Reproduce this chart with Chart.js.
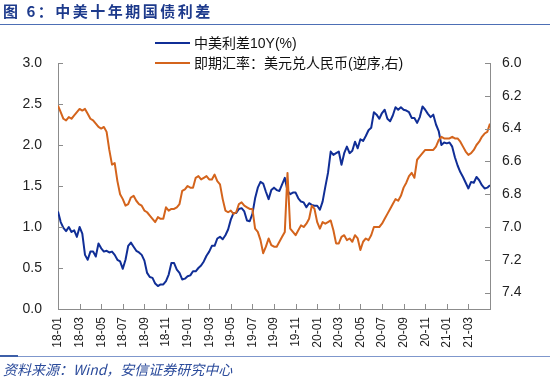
<!DOCTYPE html>
<html>
<head>
<meta charset="utf-8">
<script src="https://cdn.jsdelivr.net/npm/chart.js@4.4.1/dist/chart.umd.min.js"></script>
<style>
html,body{margin:0;padding:0;background:#fff;}
#wrap{position:relative;width:550px;height:379px;overflow:hidden;font-family:"Liberation Sans","Noto Sans CJK SC",sans-serif;}
canvas{position:absolute;left:0;top:0;}
#title{position:absolute;left:3px;top:0px;font-family:"Noto Sans CJK SC",sans-serif;font-size:15px;font-weight:bold;color:#1d3a8c;letter-spacing:2.5px;line-height:22px;white-space:nowrap;z-index:2;}
#tline{position:absolute;left:0;top:24px;width:550px;height:1px;background:#4d6fb5;z-index:2;}
#fline{position:absolute;left:0;top:356px;width:550px;height:1px;background:#7f97cc;z-index:2;}
#fline2{position:absolute;left:0;top:355px;width:18px;height:2px;background:#3d5fa8;z-index:2;}
#footer{position:absolute;left:3px;top:361px;font-family:"Noto Sans CJK SC",sans-serif;font-size:14px;font-style:italic;color:#2b4b9b;line-height:17px;white-space:nowrap;z-index:2;}
.lg{position:absolute;left:155px;font-size:14px;line-height:20px;color:#111;white-space:nowrap;z-index:2;}
.sw{display:inline-block;width:35px;height:2px;vertical-align:middle;margin-right:4px;position:relative;top:-1px;}
</style>
</head>
<body>
<div id="wrap">
<canvas id="c" width="550" height="379"></canvas>
<div id="title">图 6：中美十年期国债利差</div>
<div id="tline"></div>
<div class="lg" style="top:33px"><span class="sw" style="background:#102e96"></span>中美利差10Y(%)</div>
<div class="lg" style="top:53px"><span class="sw" style="background:#d4641c"></span>即期汇率：美元兑人民币(逆序,右)</div>
<div id="fline"></div><div id="fline2"></div>
<div id="footer">资料来源：Wind，安信证券研究中心</div>
</div>
<script>
// x-axis tick labels (every two months, starting Jan 2018)
const tickLabels = ['18-01','18-03','18-05','18-07','18-09','18-11','19-01','19-03','19-05','19-07',
  '19-09','19-11','20-01','20-03','20-05','20-07','20-09','20-11','21-01','21-03'];
// readings are taken every quarter month from 2018-01
const sampleStepMonths = 0.25;
// 中美利差10Y(%) — left axis
const spread = [
  1.19,1.06,0.99,0.95,1.00,0.94,0.96,0.88,1.00,0.92,
  0.66,0.60,0.70,0.70,0.64,0.80,0.74,0.70,0.71,0.69,
  0.70,0.66,0.60,0.58,0.49,0.60,0.77,0.81,0.76,0.71,
  0.69,0.66,0.59,0.44,0.39,0.38,0.31,0.28,0.30,0.30,
  0.34,0.42,0.56,0.56,0.48,0.44,0.36,0.37,0.40,0.41,
  0.46,0.46,0.50,0.53,0.58,0.65,0.70,0.77,0.77,0.86,
  0.88,0.85,0.90,0.97,1.09,1.17,1.17,1.22,1.23,1.19,
  1.08,1.07,1.16,1.35,1.48,1.55,1.53,1.43,1.34,1.45,
  1.48,1.45,1.44,1.52,1.60,1.44,1.40,1.42,1.42,1.35,
  1.31,1.30,1.24,1.29,1.27,1.26,1.26,1.21,1.31,1.49,
  1.66,1.92,1.88,1.90,1.92,1.76,1.90,1.98,1.90,1.93,
  2.04,1.96,2.07,2.05,2.11,2.18,2.21,2.40,2.37,2.32,
  2.39,2.43,2.32,2.29,2.36,2.46,2.43,2.46,2.43,2.42,
  2.40,2.33,2.33,2.27,2.34,2.47,2.43,2.38,2.34,2.37,
  2.25,2.17,2.00,2.03,2.02,2.03,1.98,1.85,1.75,1.67,
  1.61,1.54,1.47,1.55,1.54,1.61,1.57,1.51,1.47,1.48,
  1.51
];
// 即期汇率：美元兑人民币 — right axis (reversed)
const usdcny = [
  6.26,6.30,6.34,6.35,6.33,6.34,6.32,6.30,6.28,6.29,
  6.28,6.31,6.34,6.35,6.37,6.39,6.40,6.39,6.42,6.53,
  6.62,6.61,6.72,6.80,6.83,6.87,6.86,6.82,6.81,6.84,
  6.86,6.87,6.90,6.91,6.93,6.95,6.97,6.94,6.95,6.95,
  6.88,6.90,6.89,6.89,6.88,6.86,6.78,6.77,6.75,6.76,
  6.76,6.70,6.69,6.71,6.70,6.69,6.71,6.71,6.68,6.72,
  6.74,6.83,6.90,6.91,6.90,6.92,6.91,6.86,6.85,6.87,
  6.88,6.89,6.89,7.01,7.03,7.08,7.16,7.12,7.07,7.11,
  7.12,7.12,7.09,7.06,7.03,6.67,7.01,7.03,7.05,7.02,
  6.99,7.00,6.98,6.95,6.87,6.89,6.97,7.01,6.97,6.98,
  6.97,6.96,7.02,7.10,7.10,7.06,7.05,7.08,7.07,7.09,
  7.05,7.07,7.14,7.09,7.07,7.08,7.05,7.00,7.00,7.00,
  6.98,6.95,6.92,6.89,6.86,6.83,6.84,6.81,6.76,6.73,
  6.69,6.67,6.70,6.59,6.57,6.55,6.53,6.53,6.53,6.53,
  6.51,6.47,6.45,6.46,6.46,6.46,6.45,6.46,6.46,6.48,
  6.51,6.54,6.56,6.55,6.53,6.50,6.48,6.45,6.43,6.42,
  6.37
];

const toPoints = arr => arr.map((v, i) => ({x: i * sampleStepMonths, y: v}));
const axisColor = '#8c8c8c';
const labelFont = {family: '"Liberation Sans", Arial, sans-serif', size: 14};

const innerTicks = {
  id: 'innerTicks',
  afterDatasetsDraw(chart) {
    const {ctx, chartArea: a, scales} = chart;
    ctx.save();
    ctx.strokeStyle = axisColor;
    ctx.lineWidth = 1;
    ctx.beginPath();
    scales.x.ticks.forEach(t => {
      if (t.value > 38.001) return;
      const px = Math.round(scales.x.getPixelForValue(t.value)) + 0.5;
      ctx.moveTo(px, a.bottom); ctx.lineTo(px, a.bottom - 5);
    });
    scales.y.ticks.forEach(t => {
      const py = Math.round(scales.y.getPixelForValue(t.value)) + 0.5;
      ctx.moveTo(a.left, py); ctx.lineTo(a.left + 5, py);
    });
    scales.y1.ticks.forEach(t => {
      const py = Math.round(scales.y1.getPixelForValue(t.value)) + 0.5;
      ctx.moveTo(a.right, py); ctx.lineTo(a.right - 5, py);
    });
    ctx.stroke();
    ctx.restore();
  }
};

new Chart(document.getElementById('c'), {
  type: 'line',
  data: {
    datasets: [
      {label: '中美利差10Y(%)', data: toPoints(spread), yAxisID: 'y', borderColor: '#102e96',
       borderWidth: 2, pointRadius: 0, tension: 0, order: 1, borderJoinStyle: 'round'},
      {label: '即期汇率：美元兑人民币(逆序,右)', data: toPoints(usdcny), yAxisID: 'y1', borderColor: '#d4641c',
       borderWidth: 2, pointRadius: 0, tension: 0, order: 0, borderJoinStyle: 'round'}
    ]
  },
  options: {
    responsive: false,
    animation: false,
    events: [],
    layout: {padding: {top: 63, left: 0, right: 0, bottom: 0}},
    plugins: {legend: {display: false}, tooltip: {enabled: false}},
    scales: {
      x: {
        type: 'linear', min: 0, max: 40,
        grid: {display: false, drawTicks: false},
        border: {display: true, color: axisColor, width: 1},
        ticks: {stepSize: 2, autoSkip: false, minRotation: 90, maxRotation: 90, padding: 8,
          color: '#222', font: {family: labelFont.family, size: 12},
          callback: v => tickLabels[Math.round(v / 2)] ?? ''},
        afterFit: s => { s.height = 70; }
      },
      y: {
        position: 'left', min: 0, max: 3,
        grid: {display: false, drawTicks: false},
        border: {display: true, color: axisColor, width: 1},
        ticks: {stepSize: 0.5, padding: 16, color: '#222', font: labelFont,
          callback: v => Number(v).toFixed(1)},
        afterFit: s => { s.width = 58; }
      },
      y1: {
        position: 'right', min: 6.0, max: 7.5, reverse: true,
        grid: {display: false, drawTicks: false},
        border: {display: true, color: axisColor, width: 1},
        ticks: {stepSize: 0.2, includeBounds: false, padding: 12, color: '#222', font: labelFont,
          callback: v => Number(v).toFixed(1)},
        afterFit: s => { s.width = 60; }
      }
    }
  },
  plugins: [innerTicks]
});
</script>
</body>
</html>
